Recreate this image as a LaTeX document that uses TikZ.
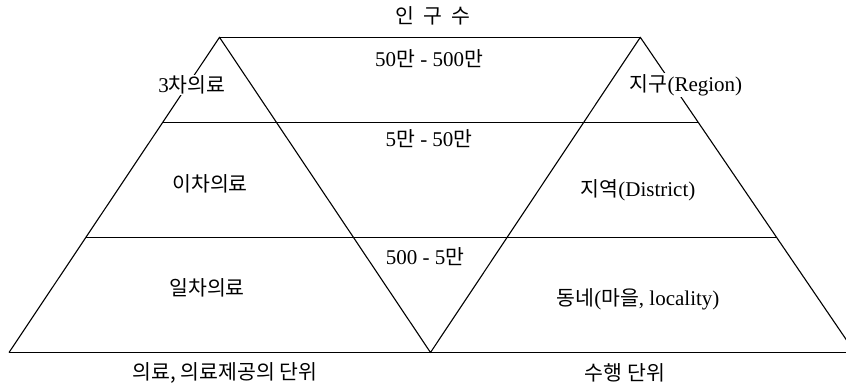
\documentclass[tikz,border=0pt]{standalone}
\usepackage{fontspec}
\setmainfont{Liberation Serif}
\newfontfamily\krfont{Noto Sans CJK KR}
\newcommand{\kor}[1]{{\krfont\fontsize{20.5}{24}\selectfont #1}}
\usetikzlibrary{calc}

\begin{document}
\begin{tikzpicture}[x=1pt, y=-1pt]
    \tikzset{edge/.style={line width=1.1pt, line join=round}}
    \tikzset{lbl/.style={font=\fontsize{21}{24}\selectfont, fill=white, inner sep=1pt, align=center}}

    \useasboundingbox (0,0) rectangle (846,385);
    \clip (0,0) rectangle (846,385);

    % Corners
    \coordinate (la) at (219.5,37.3);
    \coordinate (lb) at (9,352.5);
    \coordinate (mid) at (430.5,352.5);
    \coordinate (ra) at (640.3,37.3);
    \coordinate (rb) at (855,352.5);

    % Triangles
    \draw[edge] (lb) -- (la) -- (mid) -- (ra) -- (rb);
    \draw[edge] (la) -- (ra);
    \draw[edge] (lb) -- (rb);

    % Bands
    \draw[edge] ($(la)!0.271!(lb)$) -- ($(ra)!0.271!(rb)$);
    \draw[edge] ($(la)!0.636!(lb)$) -- ($(ra)!0.636!(rb)$);

    % Population
    \node[lbl] (pop) at (433,16) {\kor{인\ \ 구\ \ 수}};
    \node[lbl] (pop1) at (429,59) {50\kor{만} - 500\kor{만}};
    \node[lbl] (pop2) at (429,139) {5\kor{만} - 50\kor{만}};
    \node[lbl] (pop3) at (425,257) {500 - 5\kor{만}};

    % Care levels
    \node[lbl] (care3) at (192,85) {3\kor{차의료}};
    \node[lbl] (care2) at (210,184) {\kor{이차의료}};
    \node[lbl] (care1) at (207,288) {\kor{일차의료}};

    % Areas
    \node[lbl] (region) at (686,85) {\kor{지구}(Region)};
    \node[lbl] (district) at (638,190) {\kor{지역}(District)};
    \node[lbl] (locality) at (638,299) {\kor{동네}(\kor{마을}, locality)};

    % Bottom captions
    \node[lbl] (unitcare) at (225,373) {\kor{의료, 의료제공의 단위}};
    \node[lbl] (unitwork) at (625,373) {\kor{수행 단위}};
\end{tikzpicture}
\end{document}
